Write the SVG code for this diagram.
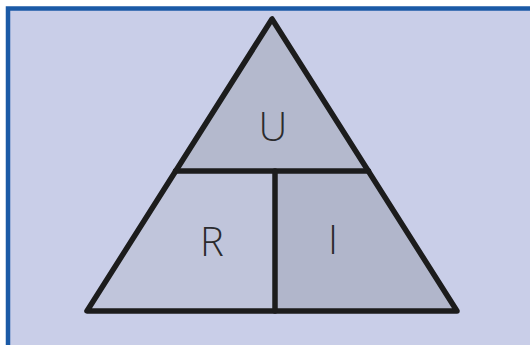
<svg xmlns="http://www.w3.org/2000/svg" width="530" height="345" viewBox="0 0 530 345">
<style>
.lbl{font-family:"Open Sans","Liberation Sans",sans-serif;font-weight:300;font-size:40px;fill:#2b2b2e;text-anchor:middle}
.ln{stroke:#1c1c1c;stroke-width:5.5;fill:none;stroke-linejoin:round;stroke-linecap:round}
</style>
<rect x="0" y="0" width="530" height="345" fill="#ffffff"/>
<rect x="8" y="8.5" width="540" height="360" fill="#c9cee8" stroke="#1b5aa6" stroke-width="4.5"/>
<g id="U">
<polygon points="272,19 175.5,171 368.5,171" fill="#b4b9cd"/>
<text class="lbl" x="273" y="141">U</text>
</g>
<g id="R">
<polygon points="175.5,171 275,171 275,311 87,311" fill="#c0c5db"/>
<text class="lbl" x="212" y="256">R</text>
</g>
<g id="I">
<polygon points="275,171 368.5,171 457,311 275,311" fill="#b1b6cb"/>
<text class="lbl" x="333" y="254">I</text>
</g>
<g id="connectors">
<polygon class="ln" points="272,19 87,311 457,311"/>
<line class="ln" x1="175.5" y1="171" x2="368.5" y2="171" stroke-linecap="butt"/>
<line class="ln" x1="275" y1="171" x2="275" y2="311" stroke-linecap="butt"/>
</g>
</svg>
